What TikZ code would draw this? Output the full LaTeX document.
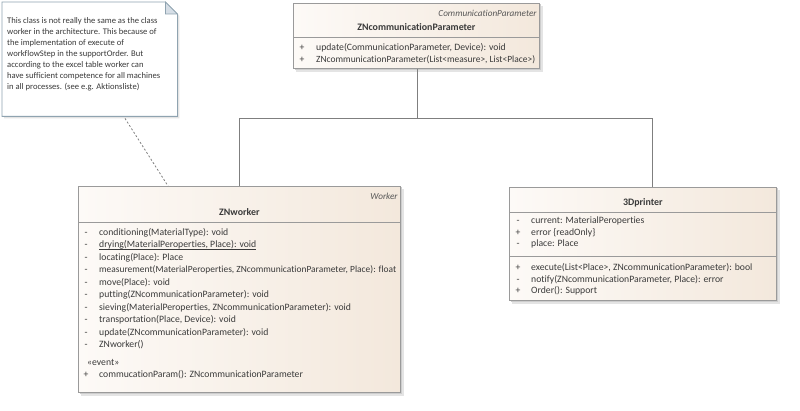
\documentclass[tikz,border=0pt]{standalone}
\usepackage{fontspec}
\setmainfont{Carlito}[Ligatures={NoCommon}]
\usetikzlibrary{calc}
\definecolor{ink}{HTML}{3A3A3A}
\definecolor{frame}{HTML}{9A9A9A}
\definecolor{wire}{HTML}{7F7F7F}
\definecolor{paleL}{HTML}{FDFAF7}
\definecolor{paleR}{HTML}{F3E8DC}
\definecolor{noteframe}{HTML}{8FA3B0}
\definecolor{notefold}{HTML}{D6DEE6}
\definecolor{shadeA}{HTML}{E4E4E4}
\definecolor{shadeB}{HTML}{CDCDCD}
\tikzset{
  classbox/.style={draw=frame, line width=0.8pt, anchor=north west, inner sep=0pt,
    left color=paleL, right color=paleR},
  member/.style={inner sep=0pt, anchor=base west, text=ink, font=\fontsize{9.7}{12}\selectfont},
  vis/.style={inner sep=0pt, anchor=base, text=ink, font=\fontsize{9.7}{12}\selectfont},
  cname/.style={inner sep=0pt, anchor=base, text=ink, font=\fontsize{9.9}{12}\selectfont\bfseries},
  stereo/.style={inner sep=0pt, anchor=base east, text=ink!85, font=\fontsize{9.2}{11}\selectfont\itshape},
  sep/.style={draw=frame, line width=0.8pt},
  link/.style={draw=wire, line width=0.9pt},
  notelink/.style={draw=wire, line width=0.8pt, dash pattern=on 2pt off 2pt},
}
% soft two-step shadow to the lower right of a box
\newcommand{\dropshadow}[1]{%
  \fill[shadeA] ($(#1.north west)+(3,3)$) rectangle ($(#1.south east)+(3,3)$);
  \fill[shadeB] ($(#1.north west)+(1.5,1.5)$) rectangle ($(#1.south east)+(1.5,1.5)$);}
\begin{document}
\begin{tikzpicture}[x=1pt,y=-1pt]
\useasboundingbox (0,0) rectangle (800,411);
\fill[white] (0,0) rectangle (800,411);

% ---------- note ----------
\node[minimum width=175pt, minimum height=114pt, anchor=north west, inner sep=0pt] (note) at (2,2) {};
\fill[shadeA] ($(note.north west)+(2,2)$) -- ($(note.north east)+(-10,2)$) -- ($(note.north east)+(2,14)$)
  -- ($(note.south east)+(2,2)$) -- ($(note.south west)+(2,2)$) -- cycle;
\filldraw[draw=noteframe, fill=white, line width=0.8pt]
  (note.north west) -- ($(note.north east)+(-12,0)$) -- ($(note.north east)+(0,12)$)
  -- (note.south east) -- (note.south west) -- cycle;
\filldraw[draw=noteframe, fill=notefold, line width=0.8pt]
  ($(note.north east)+(-12,0)$) -- ($(note.north east)+(-12,12)$) -- ($(note.north east)+(0,12)$) -- cycle;
\node[inner sep=0pt, anchor=north west, align=left, text=ink,
      font=\fontsize{8.6}{11.1}\selectfont] (notetext) at ($(note.north west)+(5,15)$)
  {This class is not really the same as the class\\
   worker in the architecture. This because of\\
   the implementation of execute of\\
   workflowStep in the supportOrder. But\\
   according to the excel table worker can\\
   have sufficient competence for all machines\\
   in all processes. (see e.g. Aktionsliste)};

% ---------- class boxes ----------
\node[minimum width=246pt, minimum height=65pt, classbox, draw=none, fill=none] (zc) at (293,3) {};
\node[minimum width=322pt, minimum height=206pt, classbox, draw=none, fill=none] (zw) at (78,186) {};
\node[minimum width=267pt, minimum height=113pt, classbox, draw=none, fill=none] (pr) at (509,187) {};
\dropshadow{zc}
\dropshadow{zw}
\dropshadow{pr}
\node[minimum width=246pt, minimum height=65pt, classbox] at (zc.north west) {};
\node[minimum width=322pt, minimum height=206pt, classbox] at (zw.north west) {};
\node[minimum width=267pt, minimum height=113pt, classbox] at (pr.north west) {};

% ---------- ZNcommunicationParameter ----------
\node[stereo] (zcst) at ($(zc.north east)+(-3,13.5)$) {CommunicationParameter};
\node[cname] (zcname) at ($(zc.north)+(0,27.5)$) {ZNcommunicationParameter};
\draw[sep] ($(zc.north west)+(0,34)$) -- ($(zc.north east)+(0,34)$);
\node[vis] (zcv1) at ($(zc.north west)+(9,48)$) {+};
\node[member] (zcm1) at ($(zc.north west)+(23,48)$) {update(CommunicationParameter, Device): void};
\node[vis] (zcv2) at ($(zc.north west)+(9,59.5)$) {+};
\node[member] (zcm2) at ($(zc.north west)+(23,59.5)$)
  {\resizebox{219pt}{!}{ZNcommunicationParameter(List<measure>, List<Place>)}};

% ---------- ZNworker ----------
\node[stereo] (zwst) at ($(zw.north east)+(-3,13.5)$) {Worker};
\node[cname] (zwname) at ($(zw.north)+(0,29.5)$) {ZNworker};
\draw[sep] ($(zw.north west)+(0,36)$) -- ($(zw.north east)+(0,36)$);
\foreach \i/\txt in {
  0/{conditioning(MaterialType): void},
  1/{drying(MaterialPeroperties, Place): void},
  2/{locating(Place): Place},
  3/{\resizebox{297pt}{!}{measurement(MaterialPeroperties, ZNcommunicationParameter, Place): float}},
  4/{move(Place): void},
  5/{putting(ZNcommunicationParameter): void},
  6/{sieving(MaterialPeroperties, ZNcommunicationParameter): void},
  7/{transportation(Place, Device): void},
  8/{update(ZNcommunicationParameter): void},
  9/{ZNworker()}}{
  \node[vis] (zwv\i) at ($(zw.north west)+(8,49.5+12.45*\i)$) {-};
  \node[member] (zwm\i) at ($(zw.north west)+(21,49.5+12.45*\i)$) {\txt};
}
% static member: underlined
\draw[ink, line width=0.5pt] ($(zwm1.base west)+(0,1.6)$) -- ($(zwm1.base east)+(0,1.6)$);
\node[member] (zwev) at ($(zw.north west)+(9,179)$) {«event»};
\node[vis] (zwv10) at ($(zw.north west)+(8,191.5)$) {+};
\node[member] (zwm10) at ($(zw.north west)+(21,191.5)$) {commucationParam(): ZNcommunicationParameter};

% ---------- 3Dprinter ----------
\node[cname] (prname) at ($(pr.north)+(0,18.5)$) {3Dprinter};
\draw[sep] ($(pr.north west)+(0,25)$) -- ($(pr.north east)+(0,25)$);
\foreach \i/\v/\txt in {
  0/-/{current: MaterialPeroperties},
  1/+/{error \{readOnly\}},
  2/-/{place: Place}}{
  \node[vis] (prav\i) at ($(pr.north west)+(9,36.5+11.6*\i)$) {\v};
  \node[member] (pra\i) at ($(pr.north west)+(22,36.5+11.6*\i)$) {\txt};
}
\draw[sep] ($(pr.north west)+(0,69)$) -- ($(pr.north east)+(0,69)$);
\foreach \i/\v/\txt in {
  0/+/{execute(List<Place>, ZNcommunicationParameter): bool},
  1/-/{notify(ZNcommunicationParameter, Place): error},
  2/+/{Order(): Support}}{
  \node[vis] (prov\i) at ($(pr.north west)+(9,83.5+11.6*\i)$) {\v};
  \node[member] (pro\i) at ($(pr.north west)+(22,83.5+11.6*\i)$) {\txt};
}

% ---------- connectors ----------
\coordinate (bus) at ($(zc.south west)+(124,50)$);
\draw[link] (zc.south -| bus) -- (bus);
\draw[link] (bus) -| ($(zw.north west)+(161,0)$);
\draw[link] (bus) -| ($(pr.north west)+(143,0)$);
\draw[notelink] ($(note.south west)+(123,2)$) -- ($(zw.north west)+(90,0)$);
\end{tikzpicture}
\end{document}
